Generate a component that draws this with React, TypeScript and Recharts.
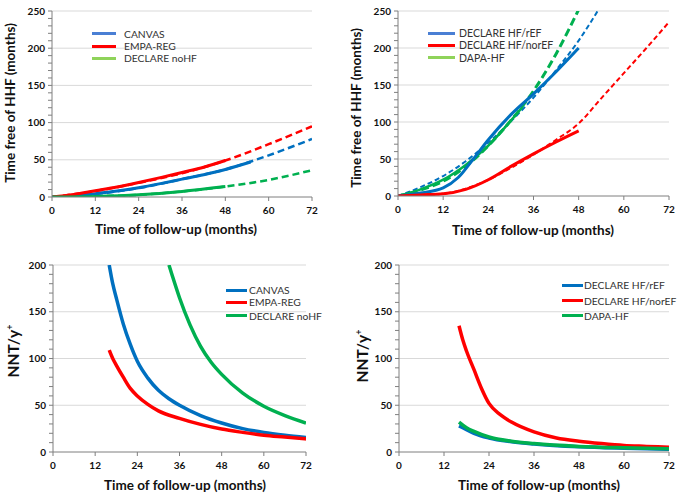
import { LineChart, Line, XAxis, YAxis, ReferenceLine } from "recharts";

// shared axes
const xTicks = [0, 12, 24, 36, 48, 60, 72];
const hhfTicks = [0, 10, 20, 30, 40, 50, 60, 70, 80, 90, 100, 110, 120, 130, 140, 150, 160, 170, 180, 190, 200, 210, 220, 230, 240, 250];
const nntTicks = [0, 10, 20, 30, 40, 50, 60, 70, 80, 90, 100, 110, 120, 130, 140, 150, 160, 170, 180, 190, 200];
const hhfGrid = [50, 100, 150, 200, 250];
const nntGrid = [50, 100, 150, 200];

// top-left: time free of HHF
const canvasX = [0, 6, 12, 18, 24, 30, 36, 42, 48, 55];
const canvasY = [0, 1.5, 4.5, 8, 12.5, 18, 24, 30, 37, 47];
const canvasProjX = [0, 12, 24, 36, 48, 60, 72];
const canvasProjY = [0, 4, 12, 24, 37, 56, 78];
const empaX = [0, 6, 12, 18, 24, 30, 36, 42, 48];
const empaY = [0, 3.5, 8.5, 13.5, 19.5, 26, 33, 40, 49];
const empaProjX = [0, 12, 24, 36, 48, 60, 72];
const empaProjY = [0, 8, 19, 32, 49, 71, 95];
const noHfX = [0, 12, 24, 36, 48];
const noHfY = [0, 0.8, 3, 7.5, 14];
const noHfProjX = [0, 12, 24, 36, 48, 60, 72];
const noHfProjY = [0, 0.8, 3, 7.5, 14, 23, 36];

// top-right: time free of HHF
const rEfX = [0, 6, 12, 16, 20, 24, 30, 36, 42, 48];
const rEfY = [0, 4, 11, 25, 50, 76, 110, 138, 168, 200];
const rEfProjX = [0, 6, 12, 18, 24, 30, 36, 42, 48, 54];
const rEfProjY = [0, 12, 27, 47, 72, 101, 133, 170, 210, 258];
const dapaX = [0, 6, 12, 18, 24, 30, 33];
const dapaY = [0, 9, 22, 42, 68, 102, 120];
const dapaProjX = [0, 6, 12, 18, 24, 30, 36, 42, 48];
const dapaProjY = [0, 8, 20, 40, 68, 102, 142, 192, 252];
const norEfX = [0, 6, 12, 18, 24, 30, 36, 42, 48];
const norEfY = [0, 1.5, 3, 9, 22, 40, 57, 73, 88];
const norEfProjX = [0, 12, 18, 24, 30, 36, 42, 48, 54, 60, 66, 72];
const norEfProjY = [0, 3, 10, 22, 38, 56, 76, 98, 132, 166, 200, 235];

// bottom-left: NNT/y+
const nntCanvasX = [16, 17, 18, 20, 22, 24, 27, 30, 33, 36, 42, 48, 54, 60, 66, 72];
const nntCanvasY = [200, 180, 165, 137, 115, 97, 79, 66, 57, 50, 39, 31, 25, 21, 18, 15.5];
const nntEmpaX = [16, 17, 18, 20, 22, 24, 27, 30, 36, 42, 48, 54, 60, 66, 72];
const nntEmpaY = [109, 100, 93, 80, 68, 60, 51, 44, 36, 29.5, 24.5, 21, 18, 16, 14];
const nntNoHfX = [33, 34, 36, 39, 42, 45, 48, 54, 60, 66, 72];
const nntNoHfY = [200, 188, 165, 136, 113, 96, 83, 63, 49, 39, 31];

// bottom-right: NNT/y+
const nntREfX = [16, 18, 20, 24, 30, 36, 48, 60, 72];
const nntREfY = [28, 24, 20, 15, 11, 8.5, 5.5, 4, 3];
const nntNorEfX = [16, 17, 18, 20, 22, 24, 27, 30, 36, 42, 48, 54, 60, 66, 72];
const nntNorEfY = [135, 120, 108, 88, 68, 52, 40, 32, 21.5, 15, 11.5, 9, 7, 6, 5];
const nntDapaX = [16, 18, 20, 24, 30, 36, 48, 60, 72];
const nntDapaY = [32, 26, 22, 16, 11.5, 9, 6, 4.5, 3.5];

const BLUE = "#0070c0";
const RED = "#ff0000";
const GREEN = "#00b050";
const FONT = "Lato, 'Liberation Sans', sans-serif";

const pts = (xs: number[], ys: number[]) =>
  xs.map((x, i) => ({ x, y: ys[i] }));

function YTick({ x, y, payload }: any) {
  const major = payload.value % 50 === 0;
  return (
    <g>
      <line x1={x - 4} x2={x} y1={y} y2={y} stroke="#7f7f7f" />
      {major && (
        <text
          x={x - 7}
          y={y}
          dy={3.5}
          textAnchor="end"
          fontSize={10}
          fontWeight={700}
          fontFamily={FONT}
          fill="#111"
        >
          {payload.value}
        </text>
      )}
    </g>
  );
}

function XTick({ x, y, payload }: any) {
  return (
    <g>
      <line x1={x} x2={x} y1={y} y2={y + 4} stroke="#7f7f7f" />
      <text
        x={x}
        y={y + 17}
        textAnchor="middle"
        fontSize={10}
        fontWeight={700}
        fontFamily={FONT}
        fill="#111"
      >
        {payload.value}
      </text>
    </g>
  );
}

function Panel({ box, plot, yMax, yTicks, grid, series, legend, xTitle, yTitle }: any) {
  return (
    <div
      style={{
        position: "absolute",
        left: box.left,
        top: box.top,
        width: box.w,
        height: box.h,
      }}
    >
      <LineChart
        width={box.w}
        height={box.h}
        margin={{
          top: plot.t,
          right: box.w - plot.r,
          left: 0,
          bottom: box.h - plot.b - 20,
        }}
      >
        <XAxis
          type="number"
          dataKey="x"
          domain={[0, 72]}
          ticks={xTicks}
          interval={0}
          height={20}
          tickSize={0}
          tickMargin={0}
          tickLine={false}
          tick={<XTick />}
          axisLine={{ stroke: "#7f7f7f" }}
          allowDataOverflow
        />
        <YAxis
          type="number"
          dataKey="y"
          domain={[0, yMax]}
          ticks={yTicks}
          interval={0}
          width={plot.l}
          tickSize={0}
          tickMargin={0}
          tickLine={false}
          tick={<YTick />}
          axisLine={{ stroke: "#7f7f7f" }}
          allowDataOverflow
        />
        {grid.map((g: number) => (
          <ReferenceLine key={g} y={g} stroke="#d9d9d9" />
        ))}
        {series.map((s: any) => (
          <Line
            key={s.name}
            data={s.data}
            dataKey="y"
            type="monotone"
            stroke={s.color}
            strokeWidth={s.width}
            strokeDasharray={s.dash}
            dot={false}
            isAnimationActive={false}
          />
        ))}
      </LineChart>

      {legend.items.map((it: any, i: number) => (
        <div key={it.name}>
          <div
            style={{
              position: "absolute",
              left: legend.x1,
              width: legend.x2 - legend.x1,
              top: legend.rows[i] - 1.5,
              height: 3,
              background: it.color,
            }}
          />
          <div
            style={{
              position: "absolute",
              left: legend.tx,
              top: legend.rows[i] - 7,
              height: 14,
              lineHeight: "14px",
              fontSize: legend.size,
              fontFamily: FONT,
              color: "#333",
              whiteSpace: "nowrap",
            }}
          >
            {it.name}
          </div>
        </div>
      ))}

      <div
        style={{
          position: "absolute",
          left: xTitle.x - 120,
          width: 240,
          top: xTitle.y - 9,
          height: 18,
          lineHeight: "18px",
          textAlign: "center",
          fontSize: 13.5,
          fontWeight: 700,
          fontFamily: FONT,
          color: "#111",
          whiteSpace: "nowrap",
        }}
      >
        Time of follow-up (months)
      </div>
      <div
        style={{
          position: "absolute",
          left: yTitle.x - 120,
          width: 240,
          top: yTitle.y - 10,
          height: 20,
          lineHeight: "20px",
          textAlign: "center",
          fontSize: yTitle.size,
          fontWeight: 700,
          fontFamily: FONT,
          color: "#111",
          whiteSpace: "nowrap",
          transform: "rotate(-90deg)",
        }}
      >
        {yTitle.text}
      </div>
    </div>
  );
}

const nntLabel = (
  <span>
    NNT/y<sup style={{ fontSize: 9 }}>+</sup>
  </span>
);

export default function App() {
  return (
    <div
      style={{
        position: "absolute",
        left: 0,
        top: 0,
        width: 685,
        height: 494,
        background: "#fff",
        overflow: "hidden",
      }}
    >
      <Panel
        box={{ left: 0, top: 0, w: 340, h: 245 }}
        plot={{ l: 52, r: 312, t: 11, b: 197 }}
        yMax={250}
        yTicks={hhfTicks}
        grid={hhfGrid}
        series={[
          { name: "cp", data: pts(canvasProjX, canvasProjY), color: BLUE, width: 2.5, dash: "7 4" },
          { name: "ep", data: pts(empaProjX, empaProjY), color: RED, width: 2.5, dash: "7 4" },
          { name: "np", data: pts(noHfProjX, noHfProjY), color: GREEN, width: 2.5, dash: "7 4" },
          { name: "c", data: pts(canvasX, canvasY), color: BLUE, width: 3 },
          { name: "e", data: pts(empaX, empaY), color: RED, width: 3 },
          { name: "n", data: pts(noHfX, noHfY), color: GREEN, width: 3 },
        ]}
        legend={{
          x1: 92,
          x2: 116,
          tx: 124,
          rows: [33.5, 46, 58],
          size: 10.3,
          items: [
            { name: "CANVAS", color: "#4a7fd4" },
            { name: "EMPA-REG", color: RED },
            { name: "DECLARE noHF", color: "#8fd35a" },
          ],
        }}
        xTitle={{ x: 176, y: 229 }}
        yTitle={{ x: 10, y: 103, size: 13.5, text: "Time free of HHF (months)" }}
      />
      <Panel
        box={{ left: 340, top: 0, w: 345, h: 245 }}
        plot={{ l: 58, r: 329, t: 11, b: 196 }}
        yMax={250}
        yTicks={hhfTicks}
        grid={hhfGrid}
        series={[
          { name: "rp", data: pts(rEfProjX, rEfProjY), color: BLUE, width: 2, dash: "5 3" },
          { name: "dp", data: pts(dapaProjX, dapaProjY), color: GREEN, width: 3, dash: "8 4" },
          { name: "np", data: pts(norEfProjX, norEfProjY), color: RED, width: 2, dash: "5 3" },
          { name: "d", data: pts(dapaX, dapaY), color: GREEN, width: 2.5 },
          { name: "r", data: pts(rEfX, rEfY), color: BLUE, width: 3 },
          { name: "n", data: pts(norEfX, norEfY), color: RED, width: 3 },
        ]}
        legend={{
          x1: 88,
          x2: 115,
          tx: 119,
          rows: [33, 45, 57.5],
          size: 10.5,
          items: [
            { name: "DECLARE HF/rEF", color: "#4a7fd4" },
            { name: "DECLARE HF/norEF", color: RED },
            { name: "DAPA-HF", color: "#8fd35a" },
          ],
        }}
        xTitle={{ x: 193, y: 230 }}
        yTitle={{ x: 16, y: 108, size: 13.5, text: "Time free of HHF (months)" }}
      />
      <Panel
        box={{ left: 0, top: 250, w: 340, h: 244 }}
        plot={{ l: 53, r: 306, t: 15, b: 202 }}
        yMax={200}
        yTicks={nntTicks}
        grid={nntGrid}
        series={[
          { name: "c", data: pts(nntCanvasX, nntCanvasY), color: BLUE, width: 3.5 },
          { name: "e", data: pts(nntEmpaX, nntEmpaY), color: RED, width: 3.5 },
          { name: "n", data: pts(nntNoHfX, nntNoHfY), color: GREEN, width: 3.5 },
        ]}
        legend={{
          x1: 226,
          x2: 247,
          tx: 249,
          rows: [40, 52.3, 65.7],
          size: 10.3,
          items: [
            { name: "CANVAS", color: BLUE },
            { name: "EMPA-REG", color: RED },
            { name: "DECLARE noHF", color: GREEN },
          ],
        }}
        xTitle={{ x: 185, y: 235 }}
        yTitle={{ x: 10, y: 101, size: 15.5, text: nntLabel }}
      />
      <Panel
        box={{ left: 340, top: 250, w: 345, h: 244 }}
        plot={{ l: 59, r: 329, t: 15, b: 202 }}
        yMax={200}
        yTicks={nntTicks}
        grid={nntGrid}
        series={[
          { name: "r", data: pts(nntREfX, nntREfY), color: BLUE, width: 3.5 },
          { name: "n", data: pts(nntNorEfX, nntNorEfY), color: RED, width: 3.5 },
          { name: "d", data: pts(nntDapaX, nntDapaY), color: GREEN, width: 3.5 },
        ]}
        legend={{
          x1: 222,
          x2: 243,
          tx: 244,
          rows: [35, 50.7, 65.7],
          size: 10.3,
          items: [
            { name: "DECLARE HF/rEF", color: BLUE },
            { name: "DECLARE HF/norEF", color: RED },
            { name: "DAPA-HF", color: GREEN },
          ],
        }}
        xTitle={{ x: 199, y: 235 }}
        yTitle={{ x: 19, y: 106, size: 15.5, text: nntLabel }}
      />
    </div>
  );
}
